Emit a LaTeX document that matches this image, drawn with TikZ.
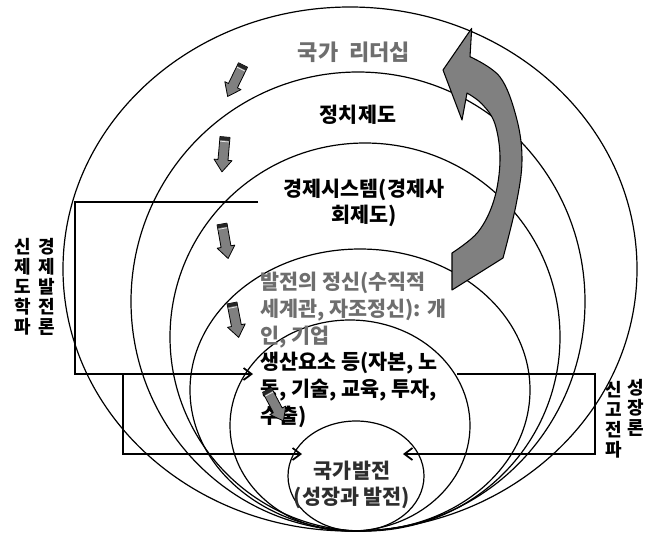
\documentclass[tikz,border=0pt]{standalone}
\usepackage{fontspec}
\setmainfont{Noto Sans CJK KR}
\usetikzlibrary{arrows.meta}
\definecolor{txtgray}{HTML}{6E6E6E}
\definecolor{arrgray}{HTML}{808080}
\definecolor{darktxt}{HTML}{2E2E2E}
\begin{document}
\begin{tikzpicture}[x=0.75pt,y=-0.75pt,
  ring/.style={draw=black, line width=0.9pt},
  bracket/.style={draw=black, line width=1.6pt},
  barb/.style={-{Straight Barb[length=6pt,width=9pt,line width=1.3pt]}},
  lbl/.style={inner sep=0pt, font=\bfseries\fontsize{15.5}{20}\selectfont},
  vlbl/.style={inner sep=0pt, align=center, font=\bfseries\fontsize{13.5}{15}\selectfont},
  garrow/.pic={
    \path[draw=black, line width=0.6pt, fill=arrgray, line join=round]
      (-5,0) -- (5,0) -- (5,23) -- (9,23) -- (0,35) -- (-9,23) -- (-5,23) -- cycle;
    \fill[black!85] (-5,0) rectangle (5,3.5);
    \draw[white!80!gray, line width=0.6pt] (-4.4,4.6) -- (4.4,4.6);
  }
]
\fill[white] (0,0) rectangle (648,532);
\useasboundingbox (0,0) rectangle (648,532);

% nested rings
\draw[ring] (350,269) ellipse [x radius=287, y radius=262];
\draw[ring] (358,301.5) ellipse [x radius=227, y radius=229.5];
\draw[ring] (365,337) ellipse [x radius=195, y radius=194];
\draw[ring] (360,390) ellipse [x radius=170, y radius=141];
\draw[ring] (350,425.5) ellipse [x radius=120, y radius=105.5];
\draw[ring] (356,476) ellipse [x radius=68, y radius=55];

% texts
\node[lbl, text=txtgray, font=\bfseries\fontsize{16.5}{20}\selectfont] (lead) at (354,52) {국가\hspace{0.5em}리더십};
\node[lbl] (pol) at (358,115) {정치제도};
\node[lbl, align=center] (eco) at (364,203) {경제시스템(경제사\\회제도)};
\node[lbl, align=left, text=txtgray, anchor=north west] (spirit) at (260,272) {발전의 정신(수직적\\세계관, 자조정신): 개\\인, 기업};
\node[lbl, align=left, anchor=north west] (fac) at (260,352) {생산요소 등(자본, 노\\동, 기술, 교육, 투자,\\수출)};
\node[lbl, align=center, text=darktxt] (dev) at (352,485) {국가발전\\(성장과 발전)};

\node[vlbl] (v1) at (23,287) {신\\제\\도\\학\\파};
\node[vlbl] (v2) at (47,287) {경\\제\\발\\전\\론};
\node[vlbl] (v3) at (614,420) {신\\고\\전\\파};
\node[vlbl] (v4) at (636,408) {성\\장\\론};

% brackets
\coordinate (a0) at (258,202);
\coordinate (a1) at (75,202);
\coordinate (a2) at (75,374);
\coordinate (a3) at (253,374);
\draw[bracket, barb] (a0) -- (a1) -- (a2) -- (a3);
\coordinate (b0) at (123,374);
\coordinate (b1) at (123,454);
\coordinate (b2) at (302,454);
\draw[bracket, barb] (b0) -- (b1) -- (b2);
\coordinate (c0) at (457,374);
\coordinate (c1) at (595,374);
\coordinate (c2) at (595,454);
\coordinate (c3) at (403,454);
\draw[bracket, barb] (c0) -- (c1) -- (c2) -- (c3);

% big curved arrow
\draw[draw=black, line width=0.8pt, fill=arrgray, line join=round]
  (471.7,28.3) -- plot[smooth, tension=0.6] coordinates {(470,56.7) (500,77) (516.5,118) (522,160) (516,205) (503,258)}
  -- (452,290) -- plot[smooth, tension=0.6] coordinates {(452,253) (478,232) (494,200) (500,160) (495,124) (482,104) (467,93)}
  -- (462,120) -- (443,70) -- cycle;

% small block arrows
\pic[rotate=-26] at (243,65) {garrow};
\pic[rotate=-5] at (225,137) {garrow};
\pic[rotate=10] at (222,224) {garrow};
\pic[rotate=11] at (232,303) {garrow};
\pic[rotate=28] at (267,390) {garrow};
\end{tikzpicture}
\end{document}
